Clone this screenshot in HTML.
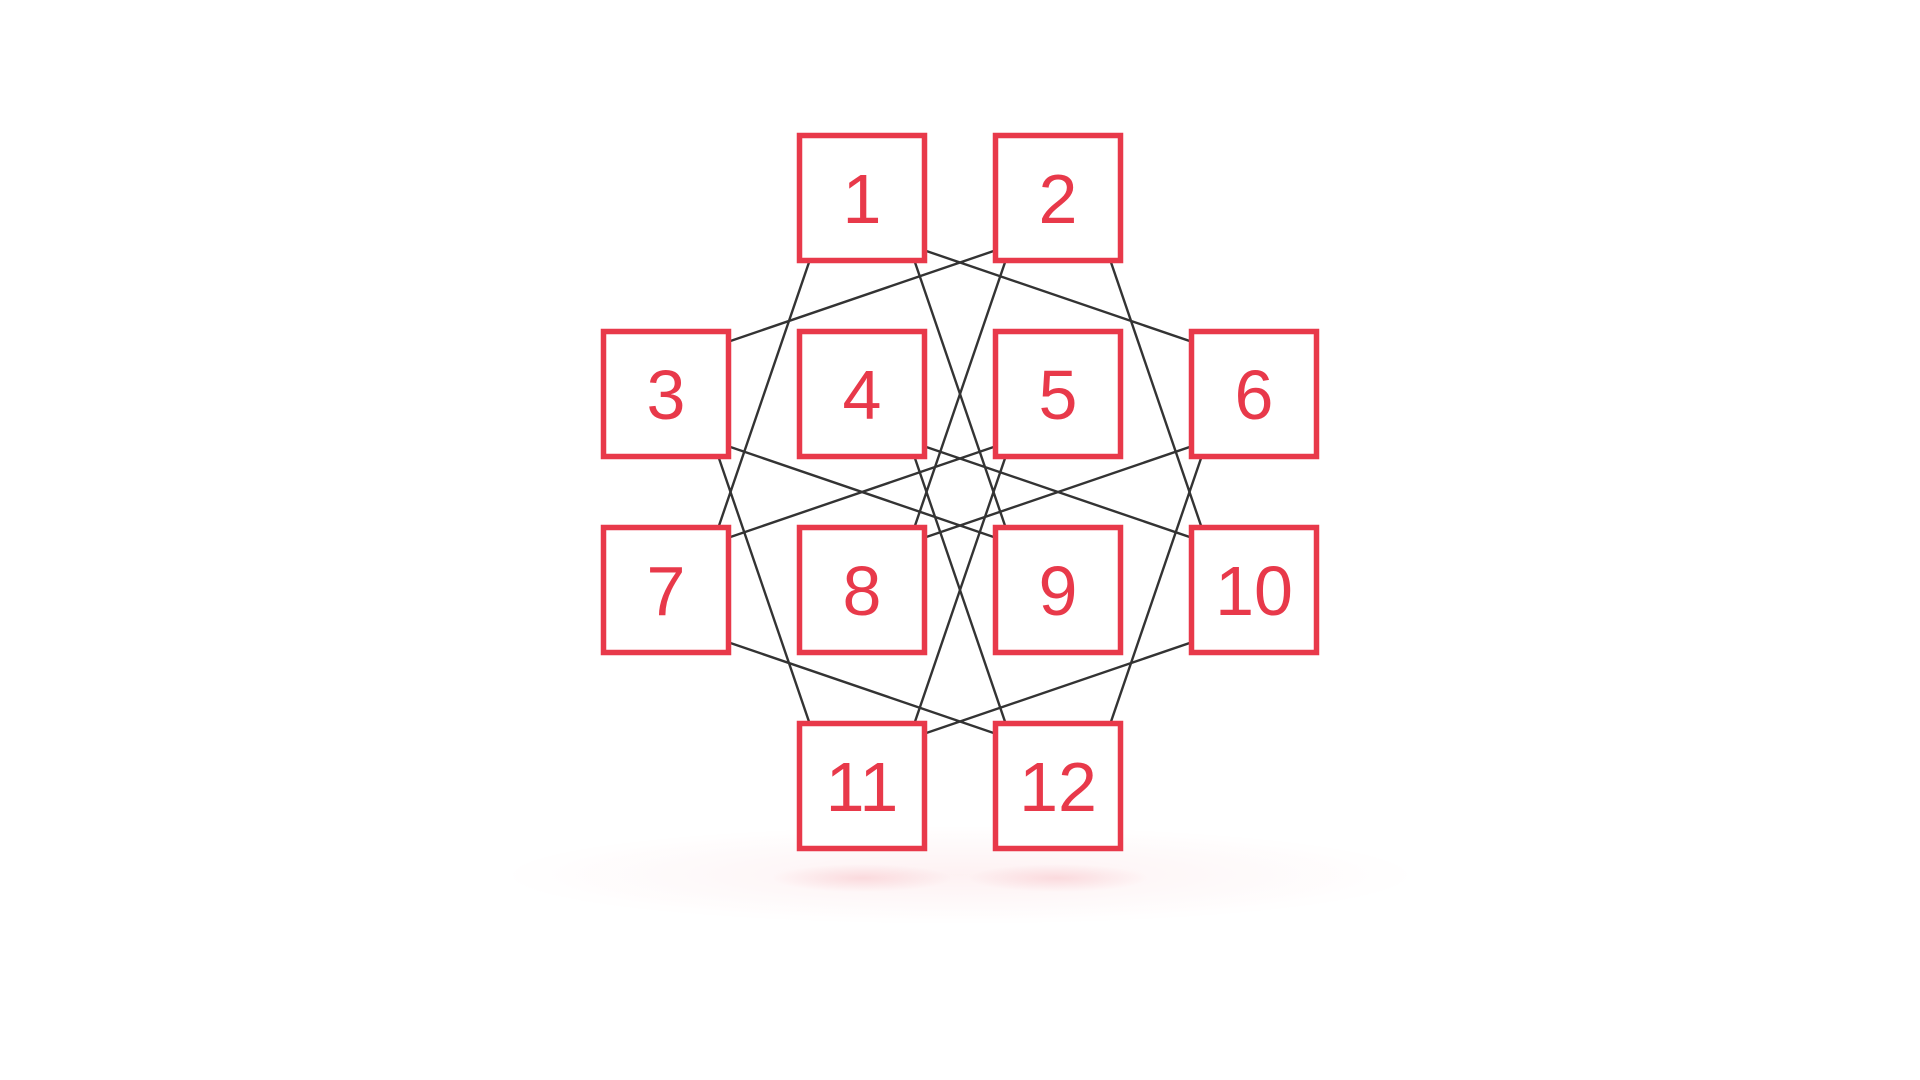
<!DOCTYPE html>
<html><head><meta charset="utf-8"><style>
html,body{margin:0;padding:0;background:#fff;width:1920px;height:1080px;overflow:hidden}
svg{display:block}
</style></head><body>
<svg width="1920" height="1080" viewBox="0 0 1920 1080">
<defs>
<radialGradient id="sh" cx="50%" cy="50%" r="50%">
<stop offset="0%" stop-color="#e8394a" stop-opacity="0.07"/>
<stop offset="100%" stop-color="#e8394a" stop-opacity="0"/>
</radialGradient>
<radialGradient id="sh2" cx="50%" cy="50%" r="50%">
<stop offset="0%" stop-color="#e8394a" stop-opacity="0.14"/>
<stop offset="100%" stop-color="#e8394a" stop-opacity="0"/>
</radialGradient>
</defs>
<ellipse cx="960" cy="875" rx="460" ry="50" fill="url(#sh)"/>
<ellipse cx="862" cy="878" rx="90" ry="14" fill="url(#sh2)"/>
<ellipse cx="1058" cy="878" rx="90" ry="14" fill="url(#sh2)"/>
<g id="edges"></g>
<g id="nodes"></g>
</svg>
<script>
const nodeLabels=["1","2","3","4","5","6","7","8","9","10","11","12"];
const nodeCols=[1,2,0,1,2,3,0,1,2,3,1,2];
const nodeRows=[0,0,1,1,1,1,2,2,2,2,3,3];
const edgeFrom=[1,1,1,2,2,2,3,3,4,4,5,5,6,6,7,10];
const edgeTo=[7,9,6,3,8,10,11,9,10,12,7,11,8,12,12,11];
const NS="http://www.w3.org/2000/svg";
const x0=666,y0=198,step=196,size=125,off=31;
function cx(c){return x0+c*step}
function cy(r){return y0+r*step}
const eg=document.getElementById('edges'),ng=document.getElementById('nodes');
for(let i=0;i<edgeFrom.length;i++){
  const a=edgeFrom[i]-1,b=edgeTo[i]-1;
  let ax=cx(nodeCols[a]),ay=cy(nodeRows[a]),bx=cx(nodeCols[b]),by=cy(nodeRows[b]);
  const dc=nodeCols[b]-nodeCols[a],dr=nodeRows[b]-nodeRows[a];
  if(Math.abs(dr)>Math.abs(dc)){ax+=Math.sign(dc)*off;bx-=Math.sign(dc)*off;}
  else{ay+=Math.sign(dr)*off;by-=Math.sign(dr)*off;}
  const l=document.createElementNS(NS,'line');
  l.setAttribute('x1',ax);l.setAttribute('y1',ay);l.setAttribute('x2',bx);l.setAttribute('y2',by);
  l.setAttribute('stroke','#333');l.setAttribute('stroke-width','2.4');
  
  
  eg.appendChild(l);
}
for(let i=0;i<nodeLabels.length;i++){
  const g=document.createElementNS(NS,'g');
  
  
  const x=cx(nodeCols[i]),y=cy(nodeRows[i]);
  const r=document.createElementNS(NS,'rect');
  r.setAttribute('x',x-size/2);r.setAttribute('y',y-size/2);r.setAttribute('width',size);r.setAttribute('height',size);
  r.setAttribute('fill','#fff');r.setAttribute('stroke','#e8394a');r.setAttribute('stroke-width','5.5');
  g.appendChild(r);
  const t=document.createElementNS(NS,'text');
  t.setAttribute('x',x);t.setAttribute('y',y+25);t.setAttribute('text-anchor','middle');
  t.setAttribute('font-family','"Liberation Sans", sans-serif');t.setAttribute('font-size','70');
  t.setAttribute('fill','#e8394a');
  t.textContent=nodeLabels[i];
  g.appendChild(t);
  ng.appendChild(g);
}
</script>
</body></html>
